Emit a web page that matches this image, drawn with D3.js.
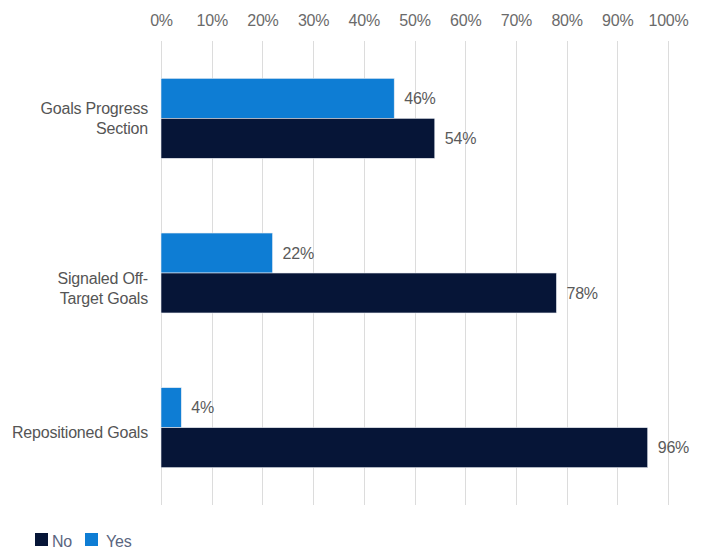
<!DOCTYPE html>
<html>
<head>
<meta charset="utf-8">
<script src="https://cdn.jsdelivr.net/npm/d3@7"></script>
<style>
  body { margin: 0; background: #fff; }
  text { font-family: "Liberation Sans", Arial, sans-serif; letter-spacing: -0.2px; }
  .grid line { stroke: #dcdcdc; stroke-width: 1; }
</style>
</head>
<body>
<div id="chart"></div>
<script>
// chart values
var categories = ["Goals Progress Section", "Signaled Off-Target Goals", "Repositioned Goals"];
var categoryLines = [["Goals Progress", "Section"], ["Signaled Off-", "Target Goals"], ["Repositioned Goals"]];
var seriesNames = ["Yes", "No"];
var yesValues = [46, 22, 4];
var noValues = [54, 78, 96];
var tickValues = [0, 10, 20, 30, 40, 50, 60, 70, 80, 90, 100];
var legendOrder = ["No", "Yes"];

var colors = { "Yes": "#0e7dd4", "No": "#061537" };
// small vertical nudges of the category labels, as in the original
var labelNudge = [0, 15, 5];

var width = 703, height = 550;
var margin = { left: 161, right: 35, top: 41, bottom: 45 };

var svg = d3.select("#chart").append("svg")
    .attr("width", width)
    .attr("height", height);

var x = d3.scaleLinear()
    .domain([0, 100])
    .range([margin.left, width - margin.right]);

var y0 = d3.scaleBand()
    .domain(categories)
    .range([margin.top, height - margin.bottom])
    .paddingInner(0.483)
    .paddingOuter(0.2415);

var y1 = d3.scaleBand()
    .domain(seriesNames)
    .range([0, y0.bandwidth()]);

// gridlines
svg.append("g")
    .attr("class", "grid")
    .selectAll("line")
    .data(tickValues)
    .enter()
    .append("line")
    .attr("x1", function (d) { return Math.round(x(d)) + 0.5; })
    .attr("x2", function (d) { return Math.round(x(d)) + 0.5; })
    .attr("y1", margin.top)
    .attr("y2", height - margin.bottom);

// top axis labels
var xAxis = d3.axisTop(x)
    .tickValues(tickValues)
    .tickSize(0)
    .tickPadding(0)
    .tickFormat(function (d) { return d + "%"; });

var axisG = svg.append("g")
    .attr("transform", "translate(0,26)")
    .call(xAxis);
axisG.select(".domain").remove();
axisG.selectAll("text")
    .attr("fill", "#6a6a6a")
    .attr("font-size", "16px")
    .attr("dy", 0);

// bars
var rows = categories.map(function (c, i) {
    return { cat: c, values: [
        { name: "Yes", value: yesValues[i] },
        { name: "No", value: noValues[i] }
    ] };
});

var groups = svg.selectAll("g.group")
    .data(rows)
    .enter()
    .append("g")
    .attr("class", "group")
    .attr("transform", function (d) { return "translate(0," + y0(d.cat) + ")"; });

groups.selectAll("rect")
    .data(function (d) { return d.values; })
    .enter()
    .append("rect")
    .attr("x", x(0))
    .attr("y", function (d) { return y1(d.name); })
    .attr("width", function (d) { return x(d.value) - x(0); })
    .attr("height", y1.bandwidth())
    .attr("fill", function (d) { return colors[d.name]; })
    .attr("stroke", "#e8ecf2")
    .attr("stroke-width", 0.6);

groups.selectAll("text.val")
    .data(function (d) { return d.values; })
    .enter()
    .append("text")
    .attr("class", "val")
    .attr("x", function (d) { return x(d.value) + 10; })
    .attr("y", function (d) { return y1(d.name) + y1.bandwidth() / 2; })
    .attr("dy", "0.36em")
    .attr("fill", "#5a5a5a")
    .attr("font-size", "16px")
    .text(function (d) { return d.value + "%"; });

// category labels
var catLabels = svg.selectAll("text.cat")
    .data(categories)
    .enter()
    .append("text")
    .attr("class", "cat")
    .attr("text-anchor", "end")
    .attr("fill", "#555")
    .attr("font-size", "16px");

catLabels.each(function (d, i) {
    var lines = categoryLines[i];
    var cy = y0(d) + y0.bandwidth() / 2 + labelNudge[i];
    var t = d3.select(this);
    lines.forEach(function (line, j) {
        t.append("tspan")
            .attr("x", 148)
            .attr("y", cy + (j - (lines.length - 1) / 2) * 20)
            .attr("dy", "0.36em")
            .text(line);
    });
});

// legend
var legend = svg.selectAll("g.legend")
    .data(legendOrder)
    .enter()
    .append("g")
    .attr("class", "legend")
    .attr("transform", function (d, i) { return "translate(" + (35 + i * 50) + ",533)"; });

legend.append("rect")
    .attr("width", 13)
    .attr("height", 13)
    .attr("fill", function (d) { return colors[d]; });

legend.append("text")
    .attr("x", d3.scaleOrdinal().domain(legendOrder).range([17, 21]))
    .attr("y", 13.5)
    .attr("fill", "#5a6580")
    .attr("font-size", "16px")
    .text(function (d) { return d; });
</script>
</body>
</html>
